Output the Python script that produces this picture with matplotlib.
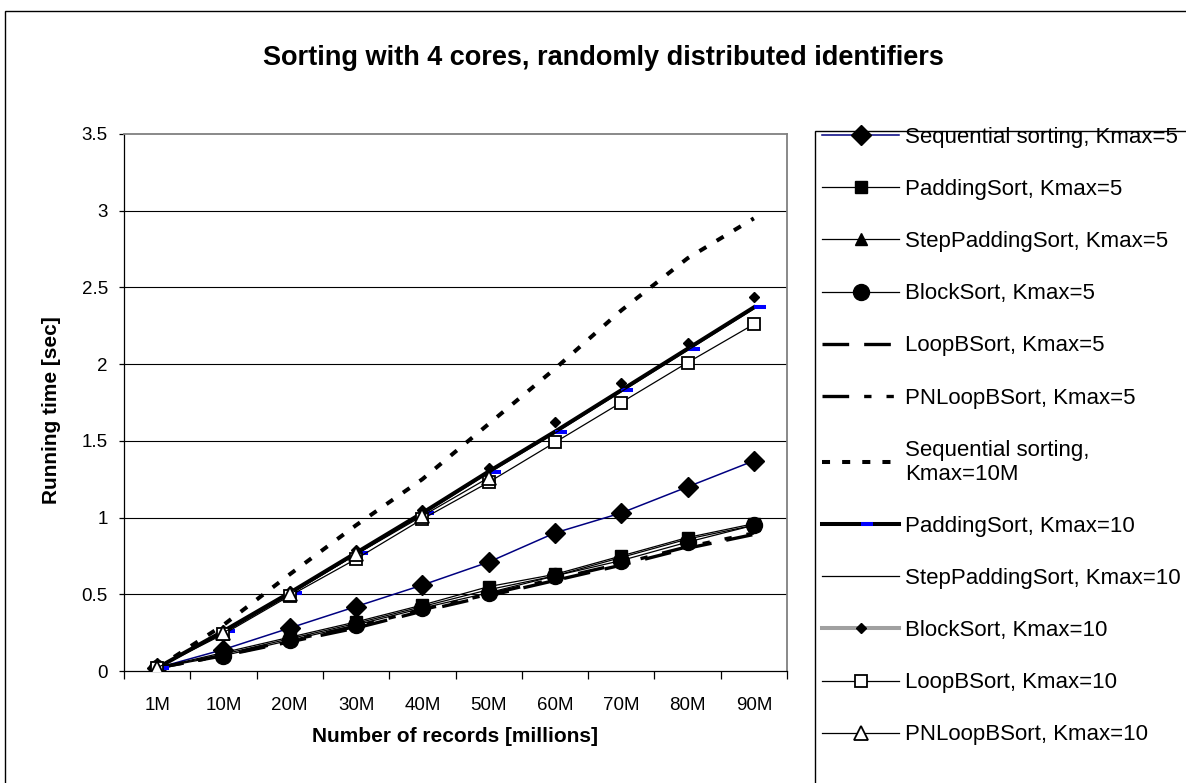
import numpy as np
import matplotlib
matplotlib.use("Agg")
import matplotlib.pyplot as plt
from matplotlib.lines import Line2D
from matplotlib.path import Path
from matplotlib.patches import Rectangle
from matplotlib.ticker import FixedLocator, FuncFormatter, NullFormatter

plt.rcParams['font.family'] = ['Liberation Sans', 'DejaVu Sans']

# ---- data -------------------------------------------------------------
categories = ["1M", "10M", "20M", "30M", "40M", "50M", "60M", "70M", "80M", "90M"]

seq_k5 = [0.02, 0.14, 0.28, 0.42, 0.56, 0.71, 0.90, 1.03, 1.20, 1.37]
padding_k5 = [0.02, 0.12, 0.22, 0.32, 0.43, 0.55, 0.63, 0.75, 0.87, 0.96]
steppadding_k5 = [0.02, 0.11, 0.21, 0.31, 0.42, 0.53, 0.62, 0.74, 0.86, 0.95]
block_k5 = [0.02, 0.10, 0.20, 0.30, 0.41, 0.51, 0.62, 0.72, 0.84, 0.95]
loopb_k5 = [0.02, 0.10, 0.19, 0.28, 0.39, 0.49, 0.59, 0.69, 0.80, 0.89]
pnloopb_k5 = [0.02, 0.10, 0.20, 0.29, 0.40, 0.50, 0.60, 0.70, 0.81, 0.90]

seq_k10m = [0.02, 0.30, 0.63, 0.95, 1.25, 1.61, 1.97, 2.35, 2.69, 2.95]
padding_k10 = [0.02, 0.26, 0.51, 0.77, 1.03, 1.30, 1.56, 1.83, 2.10, 2.37]
steppadding_k10 = [0.02, 0.25, 0.50, 0.76, 1.02, 1.29, 1.55, 1.82, 2.09, 2.36]
block_k10 = [0.02, 0.27, 0.52, 0.79, 1.05, 1.32, 1.62, 1.88, 2.14, 2.44]
loopb_k10 = [0.02, 0.24, 0.49, 0.73, 0.99, 1.23, 1.49, 1.75, 2.01, 2.26]
pnloopb_k10 = [0.02, 0.25, 0.50, 0.76, 1.01, 1.26,
               float('nan'), float('nan'), float('nan'), float('nan')]

labels = ["Sequential sorting, Kmax=5", "PaddingSort, Kmax=5",
          "StepPaddingSort, Kmax=5", "BlockSort, Kmax=5",
          "LoopBSort, Kmax=5", "PNLoopBSort, Kmax=5",
          "Sequential sorting,\nKmax=10M", "PaddingSort, Kmax=10",
          "StepPaddingSort, Kmax=10", "BlockSort, Kmax=10",
          "LoopBSort, Kmax=10", "PNLoopBSort, Kmax=10"]

y_ticks = [0, 0.5, 1, 1.5, 2, 2.5, 3, 3.5]

# ---- figure -------------------------------------------------------------
W, H = 1186, 783
fig = plt.figure(figsize=(W / 100, H / 100), dpi=100)
fig.patch.set_facecolor("white")

ax_l, ax_r, ax_t, ax_b = 124, 787, 134, 671
ax = fig.add_axes([ax_l / W, 1 - ax_b / H, (ax_r - ax_l) / W, (ax_b - ax_t) / H])

x = np.arange(len(categories))

# short horizontal bar marker sitting to the right of the point
dash_right = Path([(0, 0), (1, 0)], [Path.MOVETO, Path.LINETO])

handles = []
h, = ax.plot(x, seq_k5, color="#000080", lw=1.1, marker="D", ms=10,
             mfc="black", mec="black", zorder=3)
handles.append(h)
h, = ax.plot(x, padding_k5, color="black", lw=0.9, marker="s", ms=8,
             mfc="black", mec="black", zorder=3)
handles.append(h)
h, = ax.plot(x, steppadding_k5, color="black", lw=0.9, marker="^", ms=9,
             mfc="black", mec="black", zorder=3)
handles.append(h)
h, = ax.plot(x, block_k5, color="black", lw=0.9, marker="o", ms=11.5,
             mfc="black", mec="black", zorder=3)
handles.append(h)
h, = ax.plot(x, loopb_k5, color="black", lw=2.4, dashes=(8, 4.5), zorder=3)
handles.append(h)
h, = ax.plot(x, pnloopb_k5, color="black", lw=2.4,
             dashes=(8, 4.5, 2.2, 4.5, 2.2, 4.5), zorder=3)
handles.append(h)
h, = ax.plot(x, seq_k10m, color="black", lw=2.9, dashes=(2.0, 3.0), zorder=3)
handles.append(h)
h, = ax.plot(x, padding_k10, color="black", lw=2.9, marker=dash_right, ms=17,
             mec="#0000ff", mfc="#0000ff", mew=2.9, zorder=3)
handles.append(h)
h, = ax.plot(x, steppadding_k10, color="black", lw=0.9, zorder=3)
handles.append(h)
ax.plot(x, block_k10, linestyle="none", marker="D", ms=5.2,
        mfc="black", mec="black", zorder=3)
handles.append(Line2D([], [], color="#a0a0a0", lw=2.9, marker="D", ms=5.2,
                      mfc="black", mec="black"))
h, = ax.plot(x, loopb_k10, color="black", lw=0.9, marker="s", ms=8,
             mfc="white", mec="black", mew=1.3, zorder=4)
handles.append(h)
h, = ax.plot(x, pnloopb_k10, color="black", lw=0.9, marker="^", ms=10.5,
             mfc="white", mec="black", mew=1.3, zorder=4)
handles.append(h)

# ---- axes styling -----------------------------------------------------
ax.set_xlim(-0.5, len(categories) - 0.5)
ax.set_ylim(0, 3.5)

ax.xaxis.set_major_locator(FixedLocator(np.arange(-0.5, len(categories), 1.0)))
ax.xaxis.set_major_formatter(NullFormatter())
ax.xaxis.set_minor_locator(FixedLocator(x))
ax.xaxis.set_minor_formatter(FuncFormatter(lambda v, p: categories[int(round(v))]))
ax.tick_params(axis="x", which="major", direction="out", length=5.8, width=0.9,
               color="black")
ax.tick_params(axis="x", which="minor", length=0, pad=19, labelsize=13.5)

ax.yaxis.set_major_locator(FixedLocator(y_ticks))
ax.yaxis.set_major_formatter(FuncFormatter(lambda v, p: f"{v:g}"))
ax.tick_params(axis="y", direction="out", length=3.6, width=0.9, pad=8,
               labelsize=13.5, color="black")

for yv in y_ticks[1:-1]:
    ax.axhline(yv, color="black", lw=0.8, zorder=1)

ax.spines["left"].set_color("black")
ax.spines["bottom"].set_color("black")
ax.spines["left"].set_linewidth(0.9)
ax.spines["bottom"].set_linewidth(0.9)
ax.spines["top"].set_color("#808080")
ax.spines["right"].set_color("#808080")
ax.spines["top"].set_linewidth(1.3)
ax.spines["right"].set_linewidth(1.3)

ax.set_xlabel("Number of records [millions]", fontsize=15, fontweight="bold",
              va="center")
ax.xaxis.set_label_coords(0.5, -(737 - ax_b) / (ax_b - ax_t))
ax.set_ylabel("Running time [sec]", fontsize=15, fontweight="bold",
              va="center")
ax.yaxis.set_label_coords((52 - ax_l) / (ax_r - ax_l), (ax_b - 410) / (ax_b - ax_t))

# ---- title, chart border, legend -------------------------------------------
fig.text(603 / W, 1 - 58 / H, "Sorting with 4 cores, randomly distributed identifiers",
         ha="center", va="center", fontsize=19.5, fontweight="bold")

fig.add_artist(Rectangle((5 / W, -0.05), 1.2, 1.05 - 11 / H,
                         transform=fig.transFigure, fill=False,
                         edgecolor="black", lw=1.0))
fig.add_artist(Rectangle((815 / W, -0.05), 1.2, 0.05 + 1 - 131 / H,
                         transform=fig.transFigure, fill=False,
                         edgecolor="black", lw=1.0))

fs_leg = 16
fs_px = fs_leg / 0.72
fig.legend(handles, labels, loc="upper left",
           bbox_to_anchor=(822 / W, 1 - 127 / H), frameon=False,
           fontsize=fs_leg, borderpad=0, borderaxespad=0,
           handlelength=77 / fs_px, handletextpad=6 / fs_px,
           labelspacing=1.40, numpoints=1)

fig.savefig("out.png", dpi=100)
